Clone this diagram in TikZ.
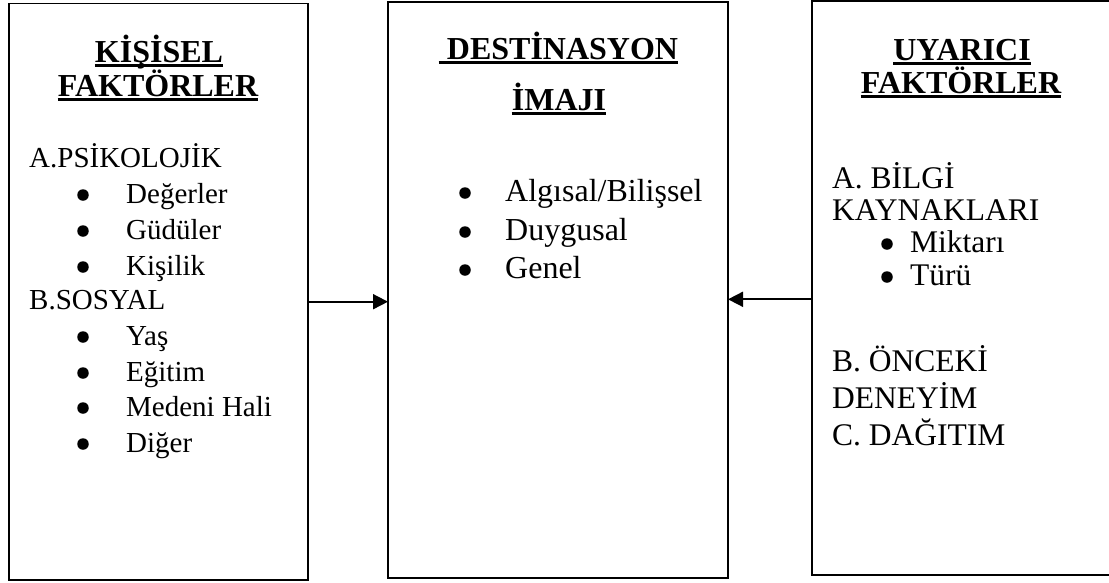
\documentclass[tikz,border=0pt]{standalone}
\usepackage{fontspec}
\setmainfont{Liberation Serif}
\usetikzlibrary{arrows.meta}
\begin{document}
\begin{tikzpicture}[x=1pt,y=-1pt,
  box/.style={draw, line width=1.8pt, inner sep=0pt, outer sep=0pt},
  ttl/.style={anchor=base, inner sep=0pt, font=\fontsize{32}{32}\selectfont\bfseries},
  lbody/.style={anchor=base west, inner sep=0pt, font=\fontsize{29}{29}\selectfont},
  mbody/.style={anchor=base west, inner sep=0pt, font=\fontsize{32}{32}\selectfont},
  rbody/.style={anchor=base west, inner sep=0pt, font=\fontsize{31.5}{31.5}\selectfont},
  uline/.style={line width=3pt},
  dot/.style={circle, fill, inner sep=0pt, minimum size=11.5pt},
  arr/.style={line width=1.8pt, -{Triangle[length=15pt,width=15pt]}}]
\useasboundingbox (0,0) rectangle (1109,582);
\clip (0,0) rectangle (1109,582);

% the three boxes
\node[box, minimum width=299pt, minimum height=576.5pt] (L) at (158.5,291.75) {};
\node[box, minimum width=340pt, minimum height=576pt] (M) at (558,290) {};
\node[box, minimum width=308pt, minimum height=574pt] (R) at (966,288) {};

% left box: personal factors
\node[ttl] (lt1) at (159,62) {KİŞİSEL};
\node[ttl] (lt2) at (158,96) {FAKTÖRLER};
\draw[uline] ([yshift=-3.5pt]lt1.base west) -- ([yshift=-3.5pt]lt1.base east);
\draw[uline] ([yshift=-3.5pt]lt2.base west) -- ([yshift=-3.5pt]lt2.base east);
\node[lbody] (la) at (29,167) {A.PSİKOLOJİK};
\node[dot] (ld1) at (83,195) {};
\node[lbody] (la1) at (126,203) {Değerler};
\node[dot] (ld2) at (83,231) {};
\node[lbody] (la2) at (126,239) {Güdüler};
\node[dot] (ld3) at (83,267) {};
\node[lbody] (la3) at (126,275) {Kişilik};
\node[lbody] (lb) at (29,309) {B.SOSYAL};
\node[dot] (ld4) at (83,337) {};
\node[lbody] (lb1) at (126,345) {Yaş};
\node[dot] (ld5) at (83,373) {};
\node[lbody] (lb2) at (126,381) {Eğitim};
\node[dot] (ld6) at (83,408) {};
\node[lbody] (lb3) at (126,416) {Medeni Hali};
\node[dot] (ld7) at (83,444) {};
\node[lbody] (lb4) at (126,452) {Diğer};

% middle box: destination image
\node[ttl] (mt1) at (558.5,59) {\ DESTİNASYON};
\node[ttl] (mt2) at (559,110) {İMAJI};
\draw[uline] ([yshift=-3.5pt]mt1.base west) -- ([yshift=-3.5pt]mt1.base east);
\draw[uline] ([yshift=-3.5pt]mt2.base west) -- ([yshift=-3.5pt]mt2.base east);
\node[dot] (md1) at (465,193) {};
\node[mbody] (m1) at (505,201) {Algısal/Bilişsel};
\node[dot] (md2) at (465,232) {};
\node[mbody] (m2) at (505,240) {Duygusal};
\node[dot] (md3) at (465,270) {};
\node[mbody] (m3) at (505,278) {Genel};

% right box: stimulus factors
\node[ttl] (rt1) at (962,60) {UYARICI};
\node[ttl] (rt2) at (961,93) {FAKTÖRLER};
\draw[uline] ([yshift=-3.5pt]rt1.base west) -- ([yshift=-3.5pt]rt1.base east);
\draw[uline] ([yshift=-3.5pt]rt2.base west) -- ([yshift=-3.5pt]rt2.base east);
\node[rbody] (ra) at (832,188) {A. BİLGİ};
\node[rbody] (ra0) at (832,220) {KAYNAKLARI};
\node[dot] (rd1) at (887,244) {};
\node[rbody] (ra1) at (910,252) {Miktarı};
\node[dot] (rd2) at (887,277) {};
\node[rbody] (ra2) at (910,285) {Türü};
\node[rbody] (rb) at (832,371) {B. ÖNCEKİ};
\node[rbody] (rb0) at (832,408) {DENEYİM};
\node[rbody] (rc) at (832,445) {C. DAĞITIM};

% connectors into the middle box
\coordinate (ya) at (0,301.7);
\coordinate (yb) at (0,299.3);
\draw[arr] (L.east |- ya) -- (M.west |- ya);
\draw[arr] (R.west |- yb) -- (M.east |- yb);
\end{tikzpicture}
\end{document}
